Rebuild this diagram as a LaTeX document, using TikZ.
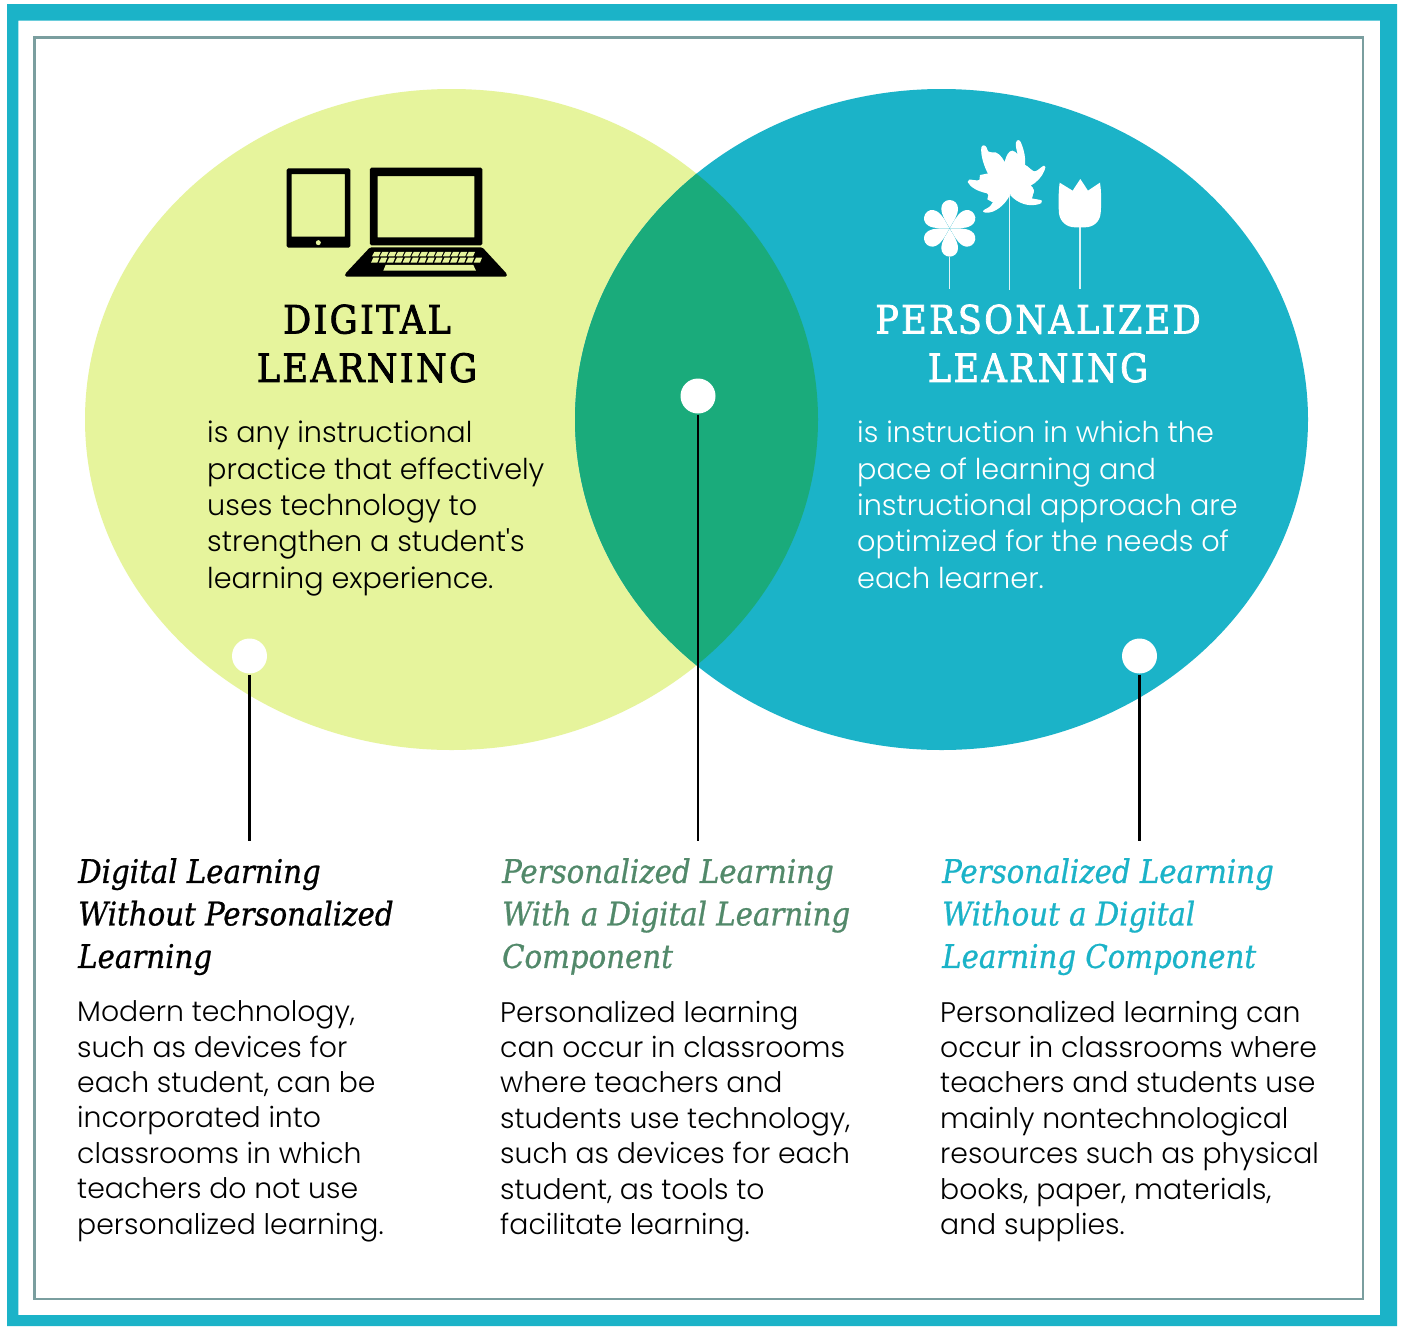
\documentclass[tikz,border=0pt]{standalone}
\usepackage{fontspec}
\setmainfont{Poppins Light}
\newfontfamily\plainq{Poppins Light}
\newfontfamily\slab{DejaVu Serif Condensed}[LetterSpace=6,FakeBold=2]
\newfontfamily\slabit{DejaVu Serif Condensed}[ItalicFont=* Italic,ItalicFeatures={FakeBold=0.8}]
\definecolor{teal1}{HTML}{1BB3C8}
\definecolor{lime1}{HTML}{E6F49C}
\definecolor{over1}{HTML}{1AAB7B}
\definecolor{frame2}{HTML}{7A9E9F}
\definecolor{green1}{HTML}{52896A}
\tikzset{
  bodytxt/.style={anchor=north west,inner sep=0,align=left,font=\fontsize{28.7}{36.4}\selectfont},
  lowtxt/.style={anchor=north west,inner sep=0,align=left,font=\fontsize{28.3}{35.4}\selectfont},
  headtxt/.style={inner sep=0,align=center,font=\slab\fontsize{39}{48.5}\selectfont},
  subhead/.style={anchor=north west,inner sep=0,align=left,font=\slabit\itshape\fontsize{32.5}{42.5}\selectfont},
  dot/.style={circle,fill=white,inner sep=0,minimum size=35pt},
  conn/.style={draw=black,line width=2.5pt}
}
\begin{document}
\begin{tikzpicture}[x=1pt,y=-1pt]
\useasboundingbox (0,0) rectangle (1403,1326);
\fill[white] (0,0) rectangle (1403,1326);
\fill[teal1,even odd rule] (7,4) rectangle (1397,1326) (18.3,20.5) rectangle (1380,1315);
\draw[frame2,line width=2.6pt] (34.7,37.5) rectangle (1363,1299);
% circles
\fill[lime1] (451.5,419.5) ellipse [x radius=366.5pt,y radius=330.5pt];
\fill[teal1] (941.5,419.5) ellipse [x radius=366.5pt,y radius=330.5pt];
\begin{scope}
\clip (451.5,419.5) ellipse [x radius=366.5pt,y radius=330.5pt];
\fill[over1] (941.5,419.5) ellipse [x radius=366.5pt,y radius=330.5pt];
\end{scope}
% tablet and laptop
\begin{scope}[shift={(270,150)},x=0.3333pt,y=-0.3333pt]
\fill[black,rounded corners=1.5pt,even odd rule] (50,55) rectangle (241,293) (65,72) [sharp corners] rectangle (225,260);
\fill[lime1] (145,278) circle (2.5pt);
\fill[black,rounded corners=1.5pt,even odd rule] (300,53) rectangle (637,286) (323,78) [sharp corners] rectangle (613,262);
\fill[black,rounded corners=1.5pt] (300,292) -- (637,292) -- (711,372) -- (711,380) -- (225,380) -- (225,372) -- cycle;
\fill[lime1] (347,345) -- (610,345) -- (618,362) -- (340,362) -- cycle;
\foreach \i in {0,...,12}{
  \fill[lime1] ({313+\i*23.6},306) -- ({332+\i*23.6},306) -- ({326+\i*23.6},319) -- ({306+\i*23.6},319) -- cycle;
}
\foreach \i in {0,...,13}{
  \fill[lime1] ({310+\i*23.7},323) -- ({328+\i*23.7},323) -- ({322+\i*23.7},338) -- ({303+\i*23.7},338) -- cycle;
}
\end{scope}
% flowers
\begin{scope}[shift={(910,130)},x=0.3333pt,y=-0.3333pt]
\foreach \a in {0,60,...,300}{
  \fill[white,rotate around={\a:(119,295)}] (119,294) .. controls (110,277) and (94,258) .. (94,235) .. controls (94,221) and (105,210) .. (119,210) .. controls (133,210) and (144,221) .. (144,235) .. controls (144,258) and (128,277) .. (119,294) -- cycle;
}
% large flower: body, then lobes
\fill[white] (235,130) -- (210,135) -- (207,160) -- (235,195) -- (232,208) -- (250,218) -- (300,193) -- (345,207) -- (366,205) -- (372,182) -- (362,165) -- (372,125) -- (345,105) -- (300,95) -- cycle;
\fill[white] (300,195) .. controls (285,225) and (255,250) .. (228,248) .. controls (218,247) and (216,243) .. (225,238) .. controls (238,232) and (245,226) .. (248,218) -- (270,180) -- cycle;
\fill[white] (232,190) .. controls (205,185) and (180,172) .. (173,156) .. controls (172,148) and (180,148) .. (190,150) .. controls (205,153) and (215,150) .. (235,140) -- cycle;
\fill[white] (236,135) .. controls (222,110) and (211,75) .. (214,52) .. controls (216,44) and (226,44) .. (230,53) .. controls (233,63) and (237,70) .. (245,67) .. controls (262,62) and (276,80) .. (284,96) .. controls (288,78) and (296,62) .. (307,62) .. controls (313,62) and (318,68) .. (323,73) .. controls (320,60) and (316,48) .. (318,38) .. controls (320,28) and (328,28) .. (332,36) .. controls (342,58) and (348,85) .. (345,110) -- cycle;
\fill[white] (345,105) .. controls (355,107) and (365,126) .. (375,124) .. controls (385,122) and (393,110) .. (402,107) .. controls (408,107) and (407,113) .. (404,120) .. controls (397,140) and (380,158) .. (360,168) -- cycle;
\fill[white] (340,160) -- (362,168) .. controls (372,172) and (374,185) .. (368,195) -- (365,205) .. controls (375,208) and (390,208) .. (396,212) .. controls (399,218) and (392,222) .. (380,224) .. controls (355,229) and (325,222) .. (300,195) -- cycle;
\fill[white] (449,158) -- (488,182) -- (511,147) -- (534,182) -- (570,158) .. controls (575,190) and (574,225) .. (572,250) .. controls (570,275) and (550,292) .. (525,292) -- (495,292) .. controls (470,292) and (450,275) .. (447,250) .. controls (445,225) and (445,190) .. (449,158) -- cycle;
\draw[white,line width=1.5pt,opacity=.85] (119,380) -- (119,478) (299,193) -- (299,480) (510,290) -- (510,478);
\end{scope}
% headings
\node[headtxt,text=black] (h1) at (367,343.5) {DIGITAL\\LEARNING};
\node[headtxt,text=white] (h2) at (1038,343.5) {PERSONALIZED\\LEARNING};
% definitions
\node[bodytxt,text=black] (d1) at (207,421) {is any instructional\\practice that effectively\\uses technology to\\strengthen a student{\plainq '}s\\learning experience.};
\node[bodytxt,text=white] (d2) at (857,421) {is instruction in which the\\pace of learning and\\instructional approach are\\optimized for the needs of\\each learner.};
% dots and connectors
\node[dot] (dotL) at (249.5,656) {};
\node[dot] (dotM) at (698,396) {};
\node[dot] (dotR) at (1139.5,656) {};
\coordinate (endL) at (249.5,841);
\coordinate (endM) at (698,841);
\coordinate (endR) at (1139.5,841);
\draw[conn] ([yshift=-1pt]dotL.south) -- (endL);
\draw[conn] ([yshift=-1pt]dotM.south) -- (endM);
\draw[conn] ([yshift=-1pt]dotR.south) -- (endR);
% lower columns
\node[subhead,text=black] (s1) at (78,858) {Digital Learning\\Without Personalized\\Learning};
\node[subhead,text=green1] (s2) at (502,858) {Personalized Learning\\With a Digital Learning\\Component};
\node[subhead,text=teal1] (s3) at (942,858) {Personalized Learning\\Without a Digital\\Learning Component};
\node[lowtxt,text=black] (t1) at (77,1000.5) {Modern technology,\\such as devices for\\each student, can be\\incorporated into\\classrooms in which\\teachers do not use\\personalized learning.};
\node[lowtxt,text=black] (t2) at (500,1000.5) {Personalized learning\\can occur in classrooms\\where teachers and\\students use technology,\\such as devices for each\\student, as tools to\\facilitate learning.};
\node[lowtxt,text=black] (t3) at (940,1000.5) {Personalized learning can\\occur in classrooms where\\teachers and students use\\mainly nontechnological\\resources such as physical\\books, paper, materials,\\and supplies.};
\end{tikzpicture}
\end{document}
